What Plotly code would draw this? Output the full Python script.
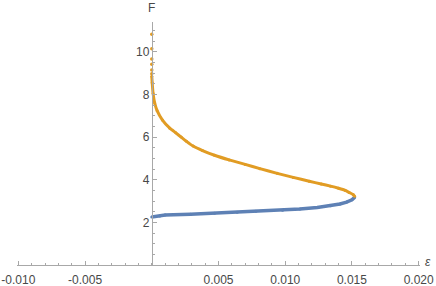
import plotly.graph_objects as go

# Blue branch (lower)
blue_eps = [0.0, 0.0006, 0.0010, 0.0029, 0.0047, 0.0064, 0.0078, 0.0098, 0.0111,
            0.0124, 0.0134, 0.0141, 0.0146, 0.0150, 0.0152]
blue_F = [2.25, 2.30, 2.34, 2.38, 2.43, 2.48, 2.52, 2.57, 2.63,
          2.70, 2.78, 2.86, 2.95, 3.06, 3.17]

# Orange branch (upper), continuous part
orange_eps = [0.0152, 0.0151, 0.0148, 0.0145, 0.0140, 0.0134, 0.0127, 0.0118, 0.0106,
              0.0094, 0.0081, 0.0070, 0.0058, 0.0047, 0.0038, 0.0031, 0.0026, 0.0022,
              0.0018, 0.00135, 0.0008, 0.0004, 0.00022, 0.0001, 0.00003, 0.0]
orange_F = [3.22, 3.30, 3.40, 3.50, 3.60, 3.70, 3.80, 3.93, 4.11,
            4.30, 4.52, 4.72, 4.93, 5.15, 5.37, 5.58, 5.80, 6.00,
            6.20, 6.42, 6.80, 7.24, 7.60, 8.04, 8.55, 8.85]
# Orange sparse points near the top
orange_top_eps = [0.0, 0.0, 0.0, 0.0, 0.0, 0.0]
orange_top_F = [8.97, 9.15, 9.42, 9.67, 10.14, 10.83]

x_ticks = [-0.010, -0.005, 0.005, 0.010, 0.015, 0.020]
x_labels = ["-0.010", "-0.005", "0.005", "0.010", "0.015", "0.020"]
y_ticks = [2, 4, 6, 8, 10]
y_labels = ["2", "4", "6", "8", "10"]

BLUE = "#5E81B5"
ORANGE = "#E19C24"
AX = "#a8a8a8"
TXT = "#484848"

xmin, xmax = -0.0101, 0.0201
ymin, ymax = 0, 11.4

fig = go.Figure()
fig.add_trace(go.Scatter(x=blue_eps, y=blue_F, mode="lines+markers",
                         line=dict(color=BLUE, width=3.5),
                         marker=dict(color=BLUE, size=3), showlegend=False,
                         cliponaxis=False))
fig.add_trace(go.Scatter(x=orange_eps, y=orange_F, mode="lines+markers",
                         line=dict(color=ORANGE, width=3, shape="spline", smoothing=0.5),
                         marker=dict(color=ORANGE, size=3), showlegend=False,
                         cliponaxis=False))
fig.add_trace(go.Scatter(x=orange_top_eps, y=orange_top_F, mode="markers",
                         marker=dict(color=ORANGE, size=3.5), showlegend=False,
                         cliponaxis=False))

fig.update_layout(
    width=436, height=286,
    margin=dict(l=17, r=16, t=22, b=21, autoexpand=False),
    paper_bgcolor="white", plot_bgcolor="white",
    font=dict(family="Liberation Sans, Arial, sans-serif", size=12, color=TXT),
    xaxis=dict(range=[xmin, xmax], showgrid=False, zeroline=False, automargin=False,
               showline=True, linecolor=AX, linewidth=1,
               tickvals=x_ticks, ticktext=x_labels,
               ticks="inside", ticklen=4, tickcolor=AX, tickwidth=1,
               ticklabelstandoff=4,
               minor=dict(dtick=0.001, tick0=0, ticks="inside", ticklen=2,
                          tickcolor=AX, tickwidth=1),
               tickfont=dict(size=12, color=TXT)),
    yaxis=dict(range=[ymin, ymax], showgrid=False, zeroline=False, automargin=False,
               showline=True, linecolor=AX, linewidth=1,
               anchor="free", position=(0 - xmin) / (xmax - xmin),
               tickvals=y_ticks, ticktext=y_labels,
               ticks="inside", ticklen=4, tickcolor=AX, tickwidth=1,
               minor=dict(dtick=0.5, tick0=0, ticks="inside", ticklen=2,
                          tickcolor=AX, tickwidth=1),
               tickfont=dict(size=12, color=TXT)),
    annotations=[
        dict(text="F", x=0, xref="x", y=1, yref="paper", xanchor="center",
             yanchor="middle", yshift=14, showarrow=False,
             font=dict(size=12, color=TXT)),
        dict(text="<i>ε</i>", x=1, xref="paper", y=0, yref="y", xanchor="left",
             yanchor="middle", xshift=3, yshift=3, showarrow=False,
             font=dict(size=12, color=TXT)),
    ],
)

fig.write_html("out.html",
               config={"displayModeBar": False},
               post_script="document.body.style.margin='0';document.body.style.overflow='hidden';")
